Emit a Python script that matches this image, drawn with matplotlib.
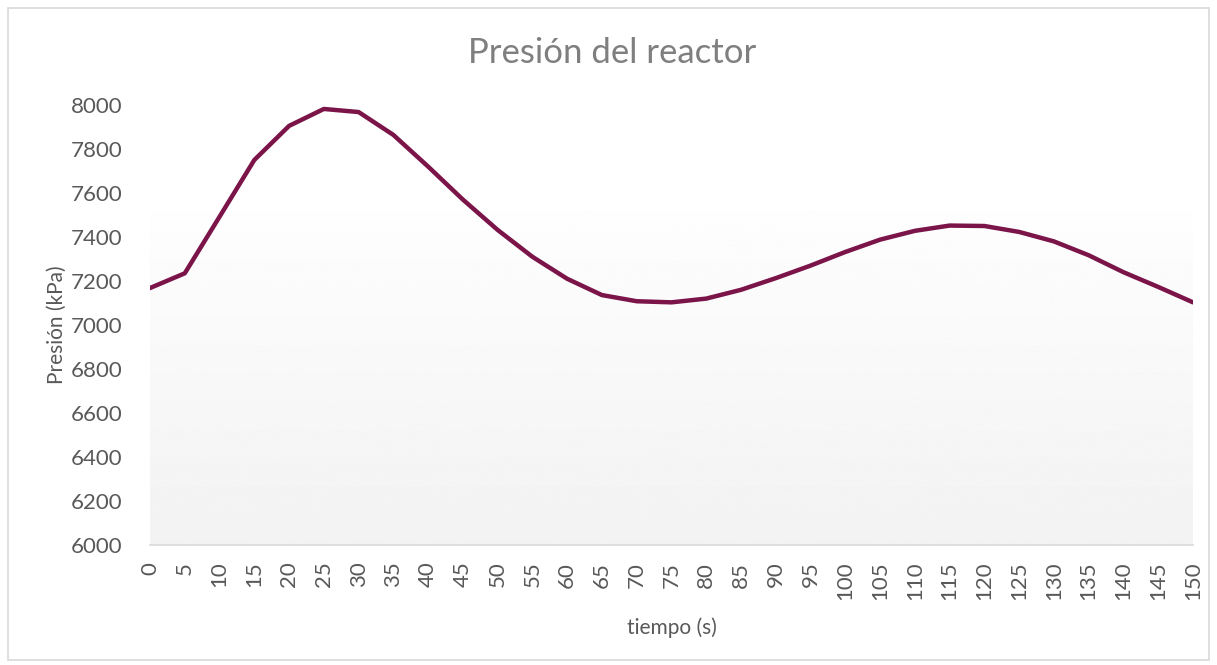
import numpy as np
import matplotlib.pyplot as plt
from matplotlib.patches import Rectangle

# datos
tiempo = [0, 5, 10, 15, 20, 25, 30, 35, 40, 45, 50, 55, 60, 65, 70, 75,
          80, 85, 90, 95, 100, 105, 110, 115, 120, 125, 130, 135, 140, 145, 150]
presion = [7168, 7235, 7492, 7750, 7905, 7982, 7968, 7864, 7720, 7570, 7432, 7310,
           7210, 7136, 7108, 7103, 7120, 7160, 7213, 7270, 7332, 7388, 7428, 7452,
           7450, 7423, 7380, 7317, 7240, 7173, 7103]
yticks = list(range(6000, 8001, 200))

gris = '#595959'
plt.rcParams['font.family'] = ['Lato', 'DejaVu Sans']

fig = plt.figure(figsize=(12.17, 6.65), dpi=100)
ax = fig.add_axes([150 / 1217, 1 - 545 / 665, (1193 - 150) / 1217, (545 - 105) / 665])

# borde exterior del grafico
fig.patches.append(Rectangle((8 / 1217, 5 / 665), 1 - 16 / 1217, 1 - 13 / 665,
                             transform=fig.transFigure, fill=False,
                             edgecolor='#d9d9d9', linewidth=1.2))

# fondo degradado del area de trazado
grad = np.linspace(0.949, 0.995, 256).reshape(-1, 1)
ax.imshow(grad, cmap='gray', vmin=0, vmax=1, aspect='auto',
          extent=[0, 150, 6000, 7514], origin='lower', zorder=0)

ax.plot(tiempo, presion, color='#7b1448', linewidth=3.2, solid_capstyle='round', zorder=3)

ax.set_xlim(0, 150)
ax.set_ylim(6000, 8000)
ax.set_xticks(tiempo)
ax.set_xticklabels([str(t) for t in tiempo], rotation=90)
ax.set_yticks(yticks)
ax.tick_params(axis='both', length=0, labelsize=16, colors=gris)
ax.tick_params(axis='x', pad=12)
ax.tick_params(axis='y', pad=20)

for s in ['top', 'right', 'left']:
    ax.spines[s].set_visible(False)
ax.spines['bottom'].set_color('#d9d9d9')
ax.spines['bottom'].set_linewidth(1.2)

fig.text(612 / 1217, 1 - 63 / 665, 'Presión del reactor', fontsize=25,
         color='#7f7f7f', ha='center', va='baseline')
ax.set_xlabel('tiempo (s)', fontsize=15, color=gris, labelpad=12)
ax.set_ylabel('Presión (kPa)', fontsize=15, color=gris)
ax.yaxis.set_label_coords(-0.080, 0.5)

plt.savefig('out.png', dpi=100)
